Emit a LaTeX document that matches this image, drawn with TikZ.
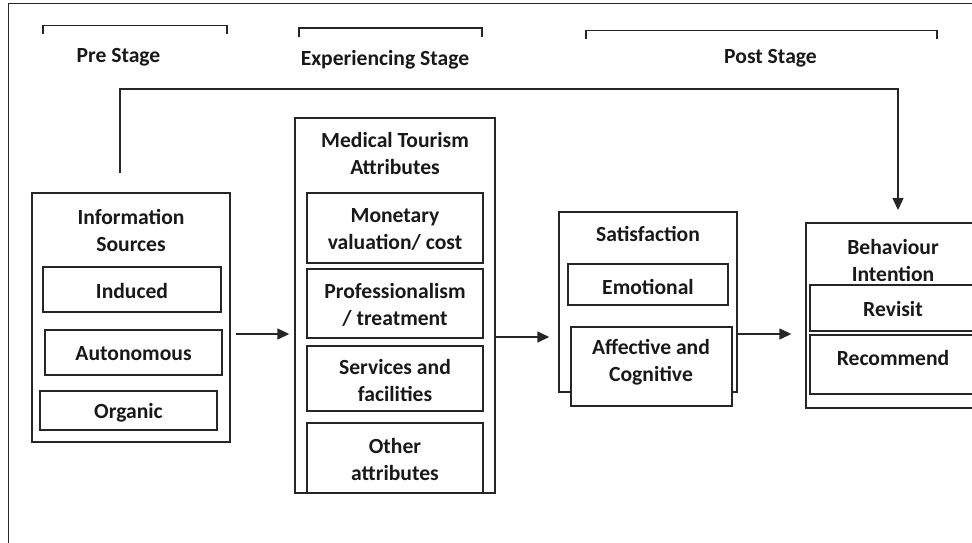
\documentclass[tikz,border=0pt]{standalone}
\usepackage{fontspec}
\setmainfont{Carlito}
\usetikzlibrary{arrows.meta,fit}
\begin{document}
\begin{tikzpicture}[x=1pt,y=-1pt,
  ln/.style={draw=black!85,line width=1.4pt},
  box/.style={ln,fill=white,rectangle,inner sep=0pt},
  txt/.style={font=\bfseries\fontsize{21.6}{27}\selectfont,text=black!90,align=center,inner sep=0pt},
  arr/.style={ln,-{Triangle[length=12pt,width=11pt]}},
]
\useasboundingbox (0,0) rectangle (972,543);
\clip (0,0) rectangle (972,543);

% outer frame (top and left edges)
\draw[ln] (972,3.5) -- (8.5,3.5) -- (8.5,543);

% stage brackets and labels
\draw[ln] (43,34) -- (43,25.5) -- (227,25.5) -- (227,34);
\draw[ln] (299,37) -- (299,28) -- (482,28) -- (482,37);
\draw[ln] (586,39) -- (586,30.5) -- (937,30.5) -- (937,39);
\node[txt] (pre)  at (118.5,57) {Pre Stage};
\node[txt] (exp)  at (385,60) {Experiencing Stage};
\node[txt] (post) at (770.5,58) {Post Stage};

% information sources
\node[box,fit={(32,193) (230,442)}] (info) {};
\node[txt] (infot) at (131,230) {Information\\Sources};
\node[box,fit={(43,267) (221,312)}] (induced) {};
\node[box,fit={(45,330) (222,375)}] (auton) {};
\node[box,fit={(40,391) (217,430)}] (organic) {};
\node[txt] (inducedt) at ([yshift=-1.5pt]induced.center) {Induced};
\node[txt] (autont) at ([yshift=-1.5pt]auton.center) {Autonomous};
\node[txt] (organict) at ([yshift=-2pt]organic.center) {Organic};

% medical tourism attributes
\node[box,fit={(295,118) (495,493)}] (mta) {};
\node[txt] (mtat) at (395,154) {Medical Tourism\\Attributes};
\node[box,fit={(307,193) (483,263)}] (money) {};
\node[box,fit={(307,269) (483,338)}] (prof) {};
\node[box,fit={(307,346) (483,411)}] (serv) {};
\node[box,fit={(307,423) (483,493)}] (other) {};
\node[txt] (moneyt) at ([yshift=-1.5pt]money.center) {Monetary\\valuation/ cost};
\node[txt] (proft) at ([yshift=-1.5pt]prof.center) {Professionalism\\/ treatment};
\node[txt] (servt) at ([yshift=-1.5pt]serv.center) {Services and\\facilities};
\node[txt] (othert) at ([yshift=-1.5pt]other.center) {Other\\attributes};

% satisfaction
\node[box,fit={(559,212) (737,392)}] (sat) {};
\node[txt] (satt) at (648,234) {Satisfaction};
\node[box,fit={(568,264) (728,305)}] (emo) {};
\node[box,fit={(571,327) (732,406)}] (aff) {};
\node[txt] (emot) at ([yshift=-2pt]emo.center) {Emotional};
\node[txt] (afft) at (651,362) {Affective and\\Cognitive};

% behaviour intention
\node[box,fit={(806,223) (1000,408)}] (bi) {};
\node[txt] (bit) at (893,260) {Behaviour\\Intention};
\node[box,fit={(810,285) (1000,331)}] (revisit) {};
\node[txt] (revt) at (893,309) {Revisit};
\node[box,fit={(810,335) (1000,394)}] (recom) {};
\node[txt] (rect) at (893,358) {Recommend};

% flow arrows
\path (info.east) ++(0,16.5) coordinate (a1);
\draw[arr,shorten <=5pt,shorten >=5pt] (a1) -- (a1 -| mta.west);
\path (mta.east) ++(0,31.5) coordinate (a2);
\draw[arr,shorten >=9pt] (a2) -- (a2 -| sat.west);
\path (sat.east) ++(0,32) coordinate (a3);
\draw[arr,shorten >=14pt] (a3) -- (a3 -| bi.west);

% feedback loop from pre stage to behaviour intention
\coordinate (fbstart) at (120,173);
\coordinate (fbtop) at (500,89);
\coordinate (fbend) at (898,210);
\draw[arr] (fbstart) |- (fbtop) -| (fbend);
\end{tikzpicture}
\end{document}
